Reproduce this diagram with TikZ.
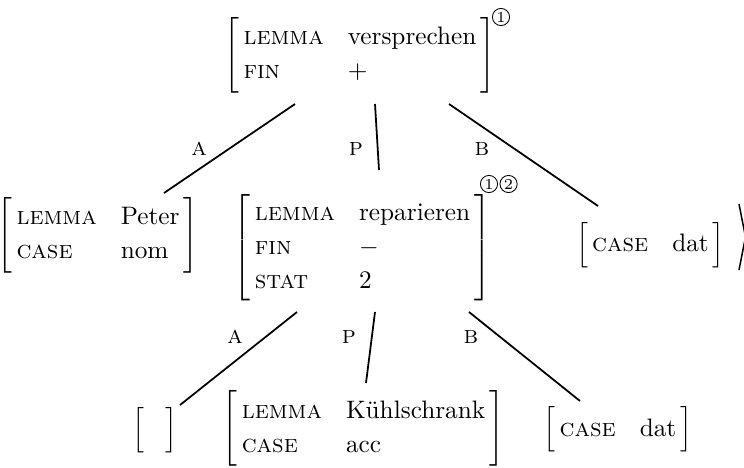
\documentclass[tikz,border=0pt]{standalone}
\usepackage{fontspec}
\usetikzlibrary{positioning}
\newcommand{\feat}[1]{\textsc{#1}}
\newcommand{\avm}[1]{{\renewcommand{\arraystretch}{1.12}$\left[\begin{tabular}{@{\,}l@{\hspace{9.5pt}}l@{\,}}#1\end{tabular}\right]$}}

\begin{document}
\begin{tikzpicture}[x=0.396pt, y=-0.396pt,
  avm/.style={inner sep=0pt},
  lbl/.style={inner sep=0pt},
  circmark/.style={circle, draw, line width=0.35pt, inner sep=0pt, minimum size=6.8pt, font=\fontsize{6}{7}\selectfont},
  link/.style={draw, line width=0.7pt}]
\useasboundingbox (0,0) rectangle (744,467);
% upper level
\node[avm] (verspr) at (360,55) {\avm{\feat{lemma} & versprechen\\ \feat{fin} & $+$}};
\node[circmark] (verspr-idx) at (501,17) {1};
\node[avm] (peter) at (98,235) {\avm{\feat{lemma} & Peter\\ \feat{case} & nom}};
\node[avm] (repar) at (362.5,248) {\avm{\feat{lemma} & reparieren\\ \feat{fin} & $-$\\ \feat{stat} & 2}};
\node[circmark] (repar-idx1) at (489,184) {1};
\node[circmark, right=0.6pt of repar-idx1] (repar-idx2) {2};
\node[avm] (dat1) at (650.5,245) {\avm{\feat{case} & dat}};
% lower level
\node[avm] (empty) at (155,430) {$\left[\rule{0pt}{10pt}\hspace{8pt}\right]$};
\node[avm] (kuehl) at (363.5,428.5) {\avm{\feat{lemma} & Kühlschrank\\ \feat{case} & acc}};
\node[avm] (dat2) at (618,429.5) {\avm{\feat{case} & dat}};
% edges
\draw[link] ([shift={(-65,49)}]verspr.center) -- ([shift={(66,-42)}]peter.center);
\draw[link] ([shift={(15,49)}]verspr.center) -- ([shift={(16.5,-78)}]repar.center);
\draw[link] ([shift={(89,49)}]verspr.center) -- ([shift={(-52.5,-39)}]dat1.center);
\draw[link] ([shift={(-65.5,64)}]repar.center) -- ([shift={(25,-25)}]empty.center);
\draw[link] ([shift={(12.5,64)}]repar.center) -- ([shift={(2.5,-45.5)}]kuehl.center);
\draw[link] ([shift={(106.5,64)}]repar.center) -- ([shift={(-38,-28.5)}]dat2.center);
% edge labels
\node[lbl] (up-a) at (199,149) {\feat{a}};
\node[lbl] (up-p) at (356,149) {\feat{p}};
\node[lbl] (up-b) at (482,149) {\feat{b}};
\node[lbl] (lo-a) at (235,337) {\feat{a}};
\node[lbl] (lo-p) at (349,337) {\feat{p}};
\node[lbl] (lo-b) at (471,337) {\feat{b}};
% closing angle, cut at the edge
\draw[line width=0.6pt] (739,204) -- (745.5,237) -- (739,270);
\end{tikzpicture}
\end{document}
